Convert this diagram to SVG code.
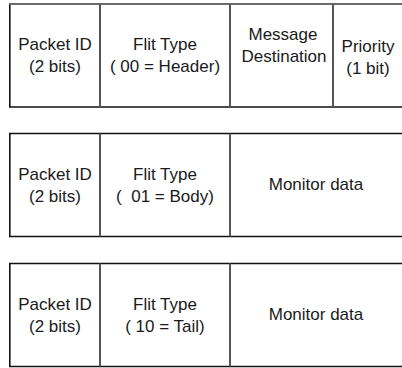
<svg xmlns="http://www.w3.org/2000/svg" width="402" height="368" viewBox="0 0 402 368">
<style>
.frame{fill:none;stroke:#111;stroke-width:1.6}
.div{stroke:#555;stroke-width:2}
text{font-family:"Liberation Sans",Arial,sans-serif;font-size:17px;fill:#1a1a1a;text-anchor:middle;white-space:pre}
</style>
<rect width="402" height="368" fill="#fff"/>
<g id="header-flit">
  <path class="frame" d="M410 4 H9.8 V107 H410"/>
  <line x1="9" y1="4" x2="402" y2="4" stroke="#777" stroke-width="1.6"/>
  <g id="h-packet-id"><text x="55" y="50">Packet ID</text><text x="55" y="72">(2 bits)</text></g>
  <g id="h-flit-type"><text x="165" y="50">Flit Type</text><text x="165" y="72">( 00 = Header)</text></g>
  <g id="h-dest"><text x="283" y="40">Message</text><text x="284" y="62">Destination</text></g>
  <g id="h-priority"><text x="368" y="52">Priority</text><text x="368" y="74">(1 bit)</text></g>
  <line class="div" x1="100" y1="4" x2="100" y2="107"/>
  <line class="div" x1="230" y1="4" x2="230" y2="107"/>
  <line class="div" x1="333" y1="4" x2="333" y2="107"/>
</g>
<g id="body-flit">
  <path class="frame" d="M410 133.5 H9.8 V236.5 H410"/>
  <g id="b-packet-id"><text x="55" y="180">Packet ID</text><text x="55" y="202">(2 bits)</text></g>
  <g id="b-flit-type"><text x="165" y="180">Flit Type</text><text x="165" y="202">(  01 = Body)</text></g>
  <g id="b-monitor"><text x="316" y="190">Monitor data</text></g>
  <line class="div" x1="100" y1="133.5" x2="100" y2="236.5"/>
  <line class="div" x1="230" y1="133.5" x2="230" y2="236.5"/>
</g>
<g id="tail-flit">
  <path class="frame" d="M410 263.5 H9.8 V366.5 H410"/>
  <g id="t-packet-id"><text x="55" y="310">Packet ID</text><text x="55" y="332">(2 bits)</text></g>
  <g id="t-flit-type"><text x="165" y="310">Flit Type</text><text x="165" y="332">( 10 = Tail)</text></g>
  <g id="t-monitor"><text x="316" y="320">Monitor data</text></g>
  <line class="div" x1="100" y1="263.5" x2="100" y2="366.5"/>
  <line class="div" x1="230" y1="263.5" x2="230" y2="366.5"/>
</g>
</svg>
